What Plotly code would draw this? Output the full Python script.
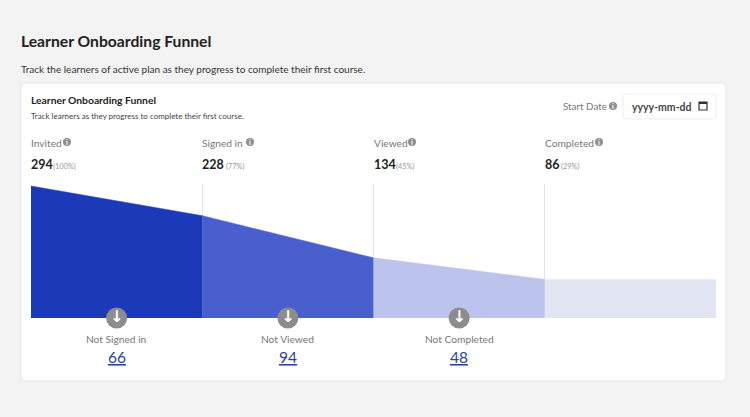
import plotly.graph_objects as go

W, H = 750, 417
FONT = "Lato"

stages = ["Invited", "Signed in", "Viewed", "Completed"]
counts = [294, 228, 134, 86]
percents = ["(100%)", "(77%)", "(45%)", "(29%)"]
drop_labels = ["Not Signed in", "Not Viewed", "Not Completed"]
drops = [66, 94, 48]
colors = ["#1c39b7", "#4a5fce", "#bcc3ed", "#e2e6f3"]

# pixel helpers, the page is a fixed 750x417
def px(x):
    return x / W

def py(y):
    return 1 - y / H

def label(x, y, text, size, color="#2b2b2b", anchor="left", bold=False):
    if bold:
        text = "<b>%s</b>" % text
    if anchor == "left":
        x = x - 2  # annotation box has its own padding
    return dict(x=px(x), y=py(y), xref="paper", yref="paper", text=text, showarrow=False,
                xanchor=anchor, yanchor="middle", align=anchor,
                font=dict(family=FONT, size=size, color=color))

def rounded_box(x0, y0, x1, y1, r, fill, line):
    path = "M %f %f L %f %f Q %f %f %f %f L %f %f Q %f %f %f %f L %f %f Q %f %f %f %f L %f %f Q %f %f %f %f Z" % (
        px(x0 + r), py(y0), px(x1 - r), py(y0), px(x1), py(y0), px(x1), py(y0 + r),
        px(x1), py(y1 - r), px(x1), py(y1), px(x1 - r), py(y1),
        px(x0 + r), py(y1), px(x0), py(y1), px(x0), py(y1 - r),
        px(x0), py(y0 + r), px(x0), py(y0), px(x0 + r), py(y0))
    return dict(type="path", xref="paper", yref="paper", path=path, fillcolor=fill,
                line=dict(color=line, width=1), layer="below")

def info_icon(x, y):
    shape = dict(type="circle", xref="paper", yref="paper", x0=px(x - 4), x1=px(x + 4),
                 y0=py(y + 4), y1=py(y - 4), fillcolor="#8f8f8f", line=dict(width=0))
    mark = label(x, y, "i", 7, color="#ffffff", anchor="center", bold=True)
    return shape, mark


fig = go.Figure()

# one filled wedge per funnel stage
for i, stage in enumerate(stages):
    next_count = counts[i + 1] if i + 1 < len(counts) else counts[i]
    fig.add_trace(go.Scatter(x=[i, i + 1, i + 1, i], y=[counts[i], next_count, 0, 0],
                             mode="lines", fill="toself", fillcolor=colors[i],
                             line=dict(width=0.5, color=colors[i]), name=stage, hoverinfo="skip"))

# grey arrow buttons on the base line
fig.add_trace(go.Scatter(x=[i + 0.5 for i in range(len(drops))], y=[0] * len(drops),
                         mode="markers+text", text=["<b>\u2193</b>"] * len(drops),
                         textposition="middle center", cliponaxis=False,
                         textfont=dict(family="DejaVu Sans", size=16, color="#ffffff"),
                         marker=dict(size=21, color="#8c8c8c"), hoverinfo="skip"))

annotations = [
    label(21, 41, "Learner Onboarding Funnel", 15.7, color="#222222", bold=True),
    label(21, 69, "Track the learners of active plan as they progress to complete their first course.", 10,
          color="#333333"),
    label(31, 100, "Learner Onboarding Funnel", 10.3, color="#222222", bold=True),
    label(31, 116, "Track learners as they progress to complete their first course.", 8, color="#444444"),
    label(563, 106, "Start Date", 9.8, color="#777777"),
    label(632, 107, "yyyy-mm-dd", 10.5, color="#444444", bold=True),
]
shapes = [
    rounded_box(21, 83, 726, 381, 4, "#ffffff", "#e6e6e6"),
    rounded_box(623, 94, 716, 119, 3, "#ffffff", "#ededed"),
    dict(type="rect", xref="paper", yref="paper", x0=px(699), x1=px(707), y0=py(110), y1=py(102),
         fillcolor="#ffffff", line=dict(color="#333333", width=1.2)),
    dict(type="line", xref="paper", yref="paper", x0=px(699), x1=px(707), y0=py(103), y1=py(103),
         line=dict(color="#333333", width=2)),
]

count_x = [31, 202, 374, 545]
percent_x = [53, 226, 396, 561]
icon_x = [67, 250, 412, 599]
for i, stage in enumerate(stages):
    annotations.append(label(count_x[i], 143, stage, 10.2, color="#777777"))
    annotations.append(label(count_x[i], 164.5, str(counts[i]), 12.5, color="#222222", bold=True))
    annotations.append(label(percent_x[i], 166, percents[i], 7.4, color="#999999"))
    s, m = info_icon(icon_x[i], 142)
    shapes.append(s)
    annotations.append(m)

s, m = info_icon(613, 106)
shapes.append(s)
annotations.append(m)

# labels under each drop, x follows the data axis
for i, name in enumerate(drop_labels):
    annotations.append(dict(x=i + 0.5, y=py(339), xref="x", yref="paper", text=name, showarrow=False,
                            yanchor="middle", font=dict(family=FONT, size=10.2, color="#777777")))
    annotations.append(dict(x=i + 0.5, y=py(357), xref="x", yref="paper", text="<u>%d</u>" % drops[i],
                            showarrow=False, yanchor="middle",
                            font=dict(family=FONT, size=15.5, color="#2a3f9f")))

fig.update_layout(
    width=W, height=H, margin=dict(l=0, r=0, t=0, b=0), showlegend=False,
    paper_bgcolor="#f3f3f3", plot_bgcolor="rgba(0,0,0,0)",
    annotations=annotations, shapes=shapes,
    xaxis=dict(domain=[px(31), px(716)], range=[0, 4], tickvals=[1, 2, 3, 4], showticklabels=False,
               showgrid=True, gridcolor="#e4e4e4", gridwidth=1, zeroline=False, ticks=""),
    yaxis=dict(domain=[py(318), py(184)], range=[0, 298.5], showticklabels=False,
               showgrid=False, zeroline=False, ticks=""),
)

fig.write_html("out.html", post_script="document.body.style.margin='0';",
               config=dict(displayModeBar=False))
